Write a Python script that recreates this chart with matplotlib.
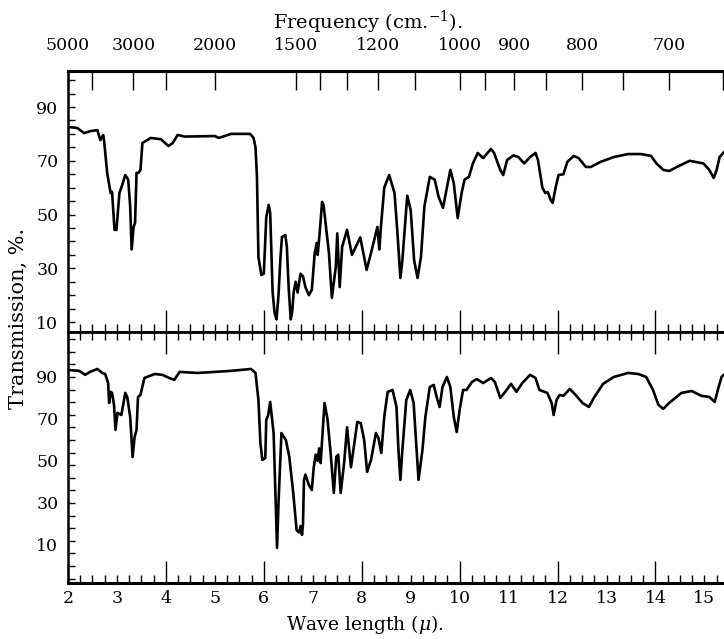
import numpy as np
import matplotlib as mpl
mpl.use('Agg')
import matplotlib.pyplot as plt
from matplotlib.ticker import MultipleLocator, FuncFormatter

plt.rcParams['font.family'] = 'DejaVu Serif'
plt.rcParams['mathtext.fontset'] = 'dejavuserif'

# upper spectrum (wavelength in microns, transmission %)
top_wl = [2.0, 2.19, 2.33, 2.45, 2.6, 2.66, 2.72, 2.74, 2.8, 2.87, 2.9, 2.95, 2.99, 3.05, 3.09,
          3.17, 3.23, 3.27, 3.3, 3.34, 3.37, 3.4, 3.44, 3.48, 3.52, 3.69, 3.9, 4.05, 4.14, 4.24,
          4.38, 5.0, 5.08, 5.33, 5.72, 5.79, 5.83, 5.86, 5.89, 5.95, 6.0, 6.05, 6.1, 6.13, 6.18,
          6.22, 6.26, 6.3, 6.34, 6.37, 6.44, 6.47, 6.51, 6.55, 6.58, 6.61, 6.65, 6.69, 6.75, 6.8,
          6.85, 6.92, 6.98, 7.04, 7.08, 7.1, 7.14, 7.19, 7.22, 7.33, 7.39, 7.47, 7.5, 7.55, 7.6,
          7.7, 7.8, 7.97, 8.1, 8.19, 8.32, 8.36, 8.39, 8.46, 8.56, 8.67, 8.73, 8.79, 8.83, 8.93,
          9.0, 9.07, 9.14, 9.21, 9.28, 9.39, 9.49, 9.57, 9.66, 9.74, 9.81, 9.88, 9.96, 10.04, 10.1,
          10.19, 10.27, 10.37, 10.48, 10.64, 10.7, 10.83, 10.89, 10.97, 11.1, 11.2, 11.32, 11.44,
          11.55, 11.6, 11.69, 11.75, 11.8, 11.86, 11.9, 11.96, 12.02, 12.12, 12.2, 12.33, 12.43,
          12.58, 12.68, 12.88, 13.15, 13.44, 13.71, 13.91, 14.02, 14.16, 14.28, 14.47, 14.7,
          14.98, 15.1, 15.19, 15.25, 15.31, 15.44]
top_tr = [82.6, 82.2, 80.3, 81, 81.4, 77.7, 79.6, 77, 65.5, 58, 58.5, 44.3, 44.3, 58, 60,
          64.7, 63, 53, 37, 45.4, 47, 65.5, 65.5, 66.6, 76.6, 78.5, 78, 75.5, 76.6, 79.6,
          79, 79.2, 78.5, 80, 80, 78.5, 75, 64, 34.2, 27.5, 28, 49, 53.6, 50.6, 21,
          13.4, 11, 20, 34, 41.6, 42.4, 38, 22, 11, 14, 21, 25, 21, 28, 27,
          23, 20, 22, 35.7, 39.4, 35, 43, 54.7, 53.5, 35.7, 19, 30.5, 43, 23, 38,
          44.3, 35, 41.5, 29.4, 35.7, 45.4, 37, 45, 60, 64.7, 58, 43, 26.4, 33, 57,
          51.7, 33, 26.4, 34.2, 53, 64, 63, 56.6, 52.5, 60, 66.6, 61.7, 48.7, 58, 63,
          64, 69, 72.9, 71, 74.4, 73, 66.6, 64.7, 70.3, 72, 71.4, 69, 71.4,
          72.9, 70.3, 60, 58, 58.4, 55.4, 54.3, 60, 64.7, 65, 69.6, 71.8, 71,
          67.7, 67.7, 69.6, 71.4, 72.5, 72.5, 71.8, 69, 66.6, 66.2, 68, 70,
          69, 66.6, 63.6, 66.6, 71.4, 74]

# lower spectrum
bot_wl = [2.0, 2.23, 2.35, 2.45, 2.6, 2.7, 2.76, 2.82, 2.84, 2.87, 2.9, 2.94, 2.97, 3.01, 3.09,
          3.17, 3.21, 3.27, 3.32, 3.36, 3.4, 3.43, 3.48, 3.56, 3.77, 3.93, 4.07, 4.17, 4.28, 4.65,
          5.33, 5.74, 5.83, 5.89, 5.93, 5.97, 6.03, 6.05, 6.09, 6.13, 6.2, 6.24, 6.27, 6.3, 6.36,
          6.45, 6.52, 6.6, 6.67, 6.72, 6.75, 6.78, 6.8, 6.82, 6.85, 6.92, 6.98, 7.02, 7.06, 7.1,
          7.13, 7.16, 7.2, 7.24, 7.3, 7.36, 7.43, 7.48, 7.52, 7.57, 7.64, 7.7, 7.78, 7.91, 7.98,
          8.05, 8.11, 8.19, 8.29, 8.34, 8.4, 8.46, 8.53, 8.63, 8.71, 8.75, 8.79, 8.83, 8.91, 8.99,
          9.06, 9.12, 9.16, 9.24, 9.3, 9.39, 9.47, 9.53, 9.59, 9.65, 9.74, 9.81, 9.88, 9.94, 10.0,
          10.07, 10.14, 10.25, 10.35, 10.48, 10.64, 10.72, 10.83, 10.93, 11.05, 11.16, 11.28,
          11.44, 11.55, 11.63, 11.79, 11.88, 11.92, 11.98, 12.04, 12.12, 12.25, 12.37, 12.51,
          12.64, 12.74, 12.93, 13.15, 13.44, 13.65, 13.81, 13.95, 14.06, 14.16, 14.28, 14.53,
          14.74, 14.94, 15.1, 15.21, 15.29, 15.35, 15.44]
bot_tr = [93.3, 92.9, 91, 92.4, 93.8, 91.9, 91.4, 87.1, 77.6, 82.9, 82.4, 76.7, 64.8, 72.9, 71.9,
          82.4, 80.5, 71, 51.9, 61.4, 64.8, 80.5, 81.4, 89.5, 91.4, 91, 89.5, 88.6, 92.4, 91.9,
          92.9, 93.8, 91.9, 79, 58.6, 50.5, 51.4, 69.5, 71.9, 78.1, 63.3, 32.9, 8.6, 30, 63.3,
          60, 52, 35, 17, 16, 19, 14.8, 20, 41, 43.5, 38.6, 36.2, 47, 53, 50,
          56, 49, 63, 77.6, 70, 55, 34.8, 52, 53, 34.8, 49, 66, 47, 68.6, 68,
          60, 44.8, 50.5, 63.3, 61, 53.8, 71, 82.9, 83.8, 75.7, 55.2, 41, 55.2, 79, 83.8,
          77.6, 55.2, 41, 55.2, 71, 85.2, 86.2, 80.5, 75.7, 85.2, 90, 85.2, 71, 63.8, 74.3,
          83.8, 83.8, 87.6, 89, 87.1, 89.5, 87.6, 80, 82.9, 86.7, 82.9, 87.1,
          91, 89.5, 83.8, 82.4, 77.6, 71.9, 79, 81.4, 81, 84.3, 81.4, 77.6,
          75.7, 80, 86.7, 90, 91.9, 91.4, 90, 83.8, 76.7, 74.8, 77.6, 82.4,
          83.3, 81, 80.5, 78.1, 85.2, 90, 91.9]

freq_ticks = [5000, 4000, 3000, 2500, 2000, 1500, 1400, 1300, 1200, 1100, 1000, 950, 900,
              850, 800, 750, 700, 650]
freq_labels = ['5000', '', '3000', '', '2000', '1500', '', '', '1200', '', '1000', '', '900',
               '', '800', '', '700', '']
y_labels = [10, 30, 50, 70, 90]

fs = 12.5
fig = plt.figure(figsize=(7.24, 6.39), dpi=100)
ax1 = fig.add_axes([68/724, 1-332/639, 1-68/724, 261/639])
ax2 = fig.add_axes([68/724, 1-583/639, 1-68/724, 251/639])

ax1.plot(top_wl, top_tr, color='black', lw=1.9, solid_joinstyle='round')
ax2.plot(bot_wl, bot_tr, color='black', lw=1.9, solid_joinstyle='round')
ax1.set_ylim(6.3, 103.4)
ax2.set_ylim(-8.1, 111.4)


def odd_label(x, pos):
    n = round(x)
    if abs(x - n) < 1e-6 and n % 2 == 1:
        return str(n)
    return ''


for ax in (ax1, ax2):
    ax.set_xlim(2.0, 15.4)
    ax.spines['right'].set_visible(False)
    ax.spines['left'].set_linewidth(1.8)
    ax.xaxis.set_major_locator(MultipleLocator(2))
    ax.xaxis.set_minor_locator(MultipleLocator(0.25))
    ax.set_yticks(y_labels)
    ax.yaxis.remove_overlapping_locs = False
    ax.tick_params(axis='y', which='major', length=0, pad=7, labelsize=fs)
    ax.tick_params(axis='y', which='minor', direction='in', length=5, width=1)
    ax.tick_params(axis='x', which='major', direction='in', length=16, width=1)
    ax.tick_params(axis='x', which='minor', direction='in', length=6, width=1)

ax1.yaxis.set_minor_locator(MultipleLocator(5))
ax2.yaxis.set_minor_locator(MultipleLocator(6))

ax1.spines['top'].set_linewidth(2.2)
ax1.spines['bottom'].set_linewidth(2.0)
ax1.tick_params(axis='x', which='both', top=False, bottom=True, labelbottom=False)

ax2.spines['top'].set_linewidth(2.0)
ax2.spines['bottom'].set_linewidth(2.2)
ax2.tick_params(axis='x', which='both', top=True, bottom=True, labelbottom=True,
                labelsize=fs, pad=5)
ax2.xaxis.set_minor_formatter(FuncFormatter(odd_label))

sec = ax1.secondary_xaxis('top', functions=(lambda w: 1e4 / np.maximum(w, 1e-6),
                                            lambda f: 1e4 / np.maximum(f, 1e-6)))
sec.set_xticks(freq_ticks, freq_labels)
sec.tick_params(direction='in', length=14, width=1, pad=12, labelsize=fs)
sec.spines['top'].set_linewidth(2.2)

fig.text(368/724, 1-22/639, 'Frequency (cm.$^{-1}$).', ha='center', va='center', fontsize=14)
fig.text(365/724, 1-625/639, r'Wave length ($\mu$).', ha='center', va='center', fontsize=13.5)
fig.text(18/724, 1-318/639, 'Transmission, %.', ha='center', va='center',
         rotation=90, fontsize=15)

plt.savefig('out.png', dpi=100)
